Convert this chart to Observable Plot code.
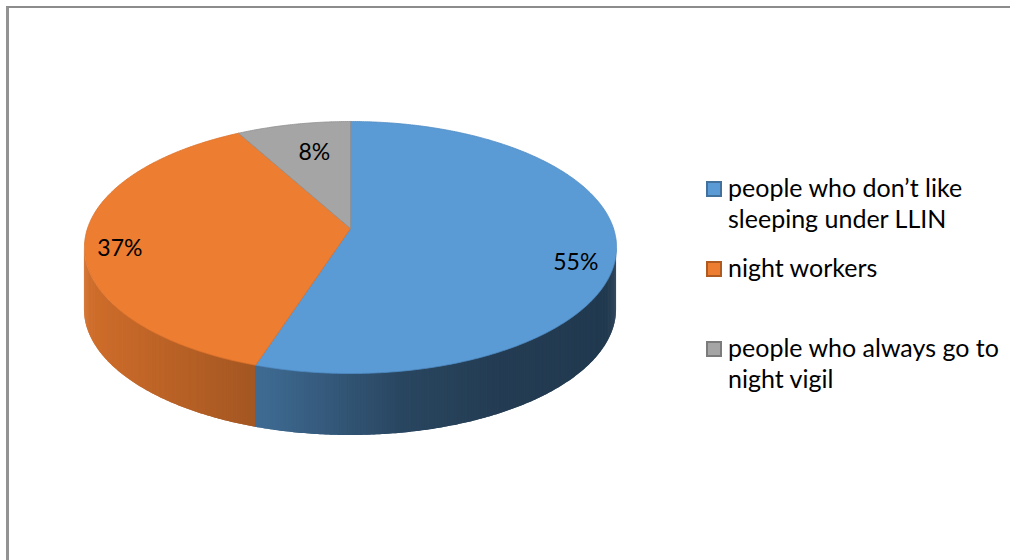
<!DOCTYPE html>
<html><head><meta charset="utf-8">
<script src="https://cdn.jsdelivr.net/npm/d3@7"></script>
<script src="https://cdn.jsdelivr.net/npm/@observablehq/plot@0.6"></script>
<style>
html,body{margin:0;padding:0;background:#fff;width:1010px;height:560px;overflow:hidden;font-family:Lato,"Open Sans",sans-serif;}
#wrap{position:relative;width:1010px;height:560px;}
#chart{position:absolute;left:0;top:0;}
#frame{position:absolute;left:6px;top:6px;width:1020px;height:580px;border-left:3px solid #939393;border-top:2px solid #8c8c8c;box-sizing:border-box;}
#legend{position:absolute;left:0;top:0;}
.item{position:absolute;left:728px;white-space:nowrap;font-size:25px;line-height:31px;color:#000;}
.sw{position:absolute;left:706px;width:12px;height:12px;border:2px solid;}
</style></head>
<body><div id="wrap"><div id="chart"></div><div id="frame"></div><div id="legend"></div></div>
<script>
// ---- data ----
const categories = ["people who don’t like sleeping under LLIN", "night workers", "people who always go to night vigil"];
const legendLines = [["people who don’t like", "sleeping under LLIN"], ["night workers"], ["people who always go to", "night vigil"]];
const values = [55, 37, 8];
const percentLabels = ["55%", "37%", "8%"];
const topColors = ["#5B9BD5", "#ED7D31", "#A5A5A5"];
const edgeColors = ["#4f8cc4", "#d9702a", "#8f8f8f"];
const swatchBorders = ["#41719c", "#ae5a21", "#7b7b7b"];

// ---- layout (pixels) ----
const W = 1010, H = 560;
const CX = 350, CY = 228, R = 263;        // pie centre (apex) and radius in px
const K = 0.1508, A = 0.4682;             // perspective tilt
const DEPTH = 62 / R;                     // thickness
const labelPlace = [[0.85, 17], [0.87, 10], [0.6, -10]]; // radius factor, vertical nudge px

const xDomain = [-CX / R, (W - CX) / R];
const yDomain = [-CY / R, (H - CY) / R];
const rad = d => d * Math.PI / 180;
function proj(r, deg) {
  const u = r * Math.sin(rad(deg)), v = r * Math.cos(rad(deg));
  const w = 1 + K * v;
  return {X: u / w, Y: -A * v / w};
}

// slices
const total = d3.sum(values);
let acc = 0;
const slices = values.map((v, i) => {
  const a0 = acc / total * 360; acc += v;
  return {i, a0, a1: acc / total * 360};
});

// top faces
const topPts = [];
for (const s of slices) {
  topPts.push({slice: s.i, X: 0, Y: 0});
  const n = Math.max(4, Math.ceil((s.a1 - s.a0) / 0.5));
  for (let j = 0; j <= n; j++) {
    const p = proj(1, s.a0 + (s.a1 - s.a0) * j / n);
    topPts.push({slice: s.i, X: p.X, Y: p.Y});
  }
  topPts.push({slice: s.i, X: 0, Y: 0});
}

// visible side (front), shaded left→right
const visA = Math.acos(-K) * 180 / Math.PI; // ~98.7
const visB = 360 - visA;                     // ~261.3
const shade = d3.scaleLinear().domain([0, 0.34, 0.6, 0.78, 1]).range([0.88, 0.68, 0.45, 0.39, 0.37]).clamp(true);
const xL = proj(1, visB).X, xR = proj(1, visA).X;
function sideColor(i, X) {
  const t = (X - xL) / (xR - xL);
  const c = d3.rgb(topColors[i]), f = shade(t);
  return d3.rgb(c.r * f, c.g * f, c.b * f).formatHex();
}
const sidePts = [];
let seg = 0;
const STEP = 0.5;
for (const s of slices) {
  const lo = Math.max(s.a0, visA), hi = Math.min(s.a1, visB);
  if (hi <= lo) continue;
  const n = Math.ceil((hi - lo) / STEP);
  for (let j = 0; j < n; j++) {
    const t0 = lo + (hi - lo) * j / n;
    const t1 = Math.min(visB, lo + (hi - lo) * (j + 1) / n + STEP); // overlap the next strip to avoid seams
    const pm = proj(1, (t0 + lo + (hi - lo) * (j + 1) / n) / 2);
    const col = sideColor(s.i, pm.X);
    for (let q = 0; q <= 2; q++) {
      const p = proj(1, t0 + (t1 - t0) * q / 2);
      sidePts.push({seg, X: p.X, Y1: p.Y, Y2: p.Y + DEPTH, col});
    }
    seg++;
  }
}

// labels
const labels = slices.map(s => {
  const [r, dy] = labelPlace[s.i];
  const p = proj(r, (s.a0 + s.a1) / 2);
  return {X: p.X, Y: p.Y + dy / R, text: percentLabels[s.i]};
});

const plot = Plot.plot({
  width: W, height: H, margin: 0,
  x: {domain: xDomain, range: [0, W], axis: null},
  y: {domain: yDomain, range: [0, H], axis: null},
  color: {type: "identity"},
  marks: [
    Plot.areaY(sidePts, {x: "X", y1: "Y1", y2: "Y2", z: "seg", fill: "col", curve: "linear"}),
    Plot.line(topPts, {x: "X", y: "Y", z: "slice", curve: "linear",
      fill: d => topColors[d.slice], stroke: d => edgeColors[d.slice], strokeWidth: 0.8, strokeLinejoin: "round"}),
    Plot.text(labels, {x: "X", y: "Y", text: "text", fontSize: 23, fill: "#000", fontFamily: "Lato, 'Open Sans', sans-serif"})
  ]
});
document.getElementById("chart").appendChild(plot);

// legend
const legendBaselines = [197, 277, 357];
const leg = document.getElementById("legend");
categories.forEach((c, i) => {
  const sw = document.createElement("div");
  sw.className = "sw";
  sw.style.top = (legendBaselines[i] - 16) + "px";
  sw.style.background = topColors[i];
  sw.style.borderColor = swatchBorders[i];
  leg.appendChild(sw);
  const t = document.createElement("div");
  t.className = "item";
  t.style.top = (legendBaselines[i] - 25.2) + "px";
  t.innerHTML = legendLines[i].join("<br>");
  t.title = c;
  leg.appendChild(t);
});
</script>
</body></html>
